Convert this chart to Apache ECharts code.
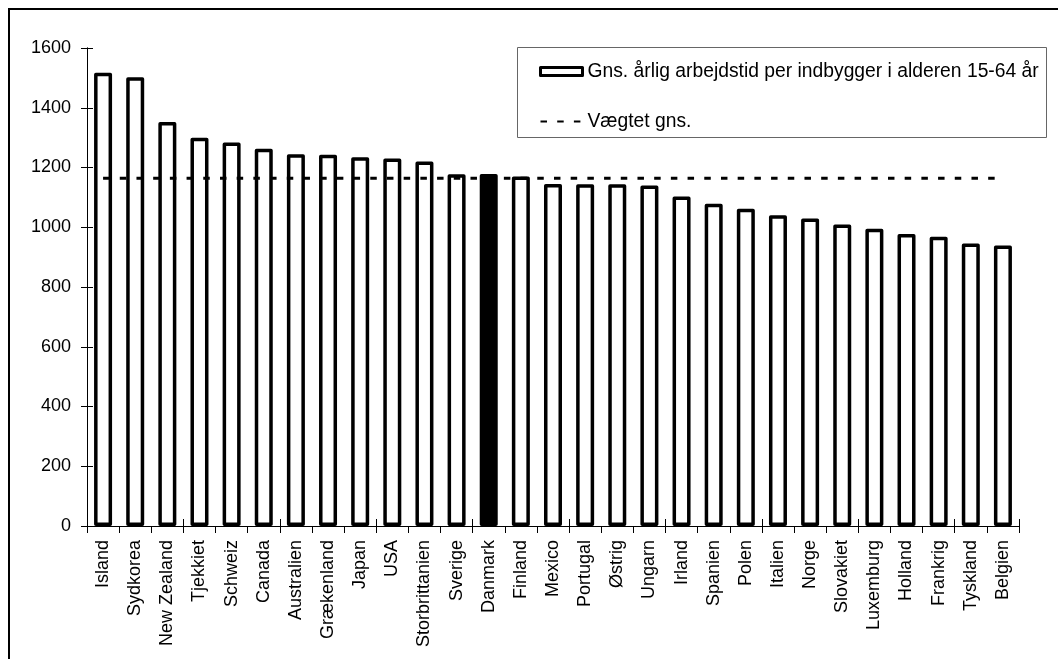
<!DOCTYPE html>
<html>
<head>
<meta charset="utf-8">
<script src="https://cdn.jsdelivr.net/npm/echarts@6/dist/echarts.min.js"></script>
<style>
html,body{margin:0;padding:0;background:#fff;}
#chart{width:1058px;height:659px;}
</style>
</head>
<body>
<div id="chart"></div>
<script>
const categories = ["Island","Sydkorea","New Zealand","Tjekkiet","Schweiz","Canada","Australien","Grækenland","Japan","USA","Storbrittanien","Sverige","Danmark","Finland","Mexico","Portugal","Østrig","Ungarn","Irland","Spanien","Polen","Italien","Norge","Slovakiet","Luxemburg","Holland","Frankrig","Tyskland","Belgien"];
const hoursValues = [1517,1502,1352,1300,1284,1263,1244,1243,1234,1230,1220,1177,1178,1170,1145,1144,1144,1140,1103,1079,1062,1040,1029,1009,995,977,968,946,939];
const weightedAvg = 1164;
const highlightCategory = "Danmark";
const yTicks = {min: 0, max: 1600, interval: 200};
const seriesNames = ["Gns. årlig arbejdstid per indbygger i alderen 15-64 år", "Vægtet gns."];

const chart = echarts.init(document.getElementById('chart'));
const FONT = 'Liberation Sans, Arial, sans-serif';

const barData = hoursValues.map((v, i) => categories[i] === highlightCategory
  ? {value: v, itemStyle: {color: '#000'}}
  : v);
const avgData = categories.map(() => weightedAvg);

const baseX = {
  type: 'category', data: categories, position: 'bottom', gridIndex: 0,
  axisLine: {show: true, lineStyle: {color: '#000', width: 1}},
  splitLine: {show: false}
};
const baseY = {
  type: 'value', min: yTicks.min, max: yTicks.max, interval: yTicks.interval, position: 'left',
  axisLine: {show: true, lineStyle: {color: '#000', width: 1}},
  splitLine: {show: false}
};

chart.setOption({
  animation: false,
  backgroundColor: '#fff',
  textStyle: {fontFamily: FONT},
  grid: {left: 87, right: 39, top: 48, bottom: 133, containLabel: false},
  xAxis: [
    Object.assign({}, baseX, {
      axisTick: {show: true, inside: false, length: 7, lineStyle: {color: '#000'}},
      axisLabel: {interval: 0, rotate: 90, margin: 14, color: '#000', fontSize: 18, fontFamily: FONT}
    }),
    Object.assign({}, baseX, {
      axisTick: {show: true, inside: true, length: 7, lineStyle: {color: '#000'}},
      axisLabel: {show: false}
    })
  ],
  yAxis: [
    Object.assign({}, baseY, {
      axisTick: {show: true, inside: false, length: 6, lineStyle: {color: '#000'}},
      axisLabel: {margin: 16, color: '#000', fontSize: 18, fontFamily: FONT, formatter: v => String(v)}
    }),
    Object.assign({}, baseY, {
      axisTick: {show: true, inside: true, length: 6, lineStyle: {color: '#000'}},
      axisLabel: {show: false}
    })
  ],
  legend: {
    orient: 'vertical', left: 539, top: 62, padding: 0,
    itemWidth: 42, itemHeight: 8, itemGap: 31,
    selectedMode: false,
    textStyle: {fontSize: 19.3, color: '#000', fontFamily: FONT, lineHeight: 18},
    data: [
      {name: seriesNames[0], icon: 'rect', itemStyle: {color: '#fff', borderColor: '#000', borderWidth: 3}},
      {name: seriesNames[1], itemStyle: {opacity: 0}}
    ]
  },
  graphic: [
    {type: 'rect', z: -1, shape: {x: 517.5, y: 47.5, width: 529, height: 90}, style: {fill: '#fff', stroke: '#666', lineWidth: 1}},
    {type: 'rect', z: 100, shape: {x: 9, y: 9, width: 1100, height: 700}, style: {fill: 'none', stroke: '#000', lineWidth: 2}}
  ],
  series: [
    {
      name: seriesNames[0], type: 'bar', xAxisIndex: 0, yAxisIndex: 0,
      data: barData, barWidth: 18,
      itemStyle: {color: '#fff', borderColor: '#000', borderWidth: 3.5, borderJoin: 'round'},
      z: 2
    },
    {
      name: seriesNames[1], type: 'line', xAxisIndex: 0, yAxisIndex: 0,
      data: avgData, symbol: 'none', showSymbol: false,
      lineStyle: {color: '#000', width: 3, type: [6.5, 10.2]},
      itemStyle: {color: '#000'},
      z: 5
    }
  ]
});
</script>
</body>
</html>
